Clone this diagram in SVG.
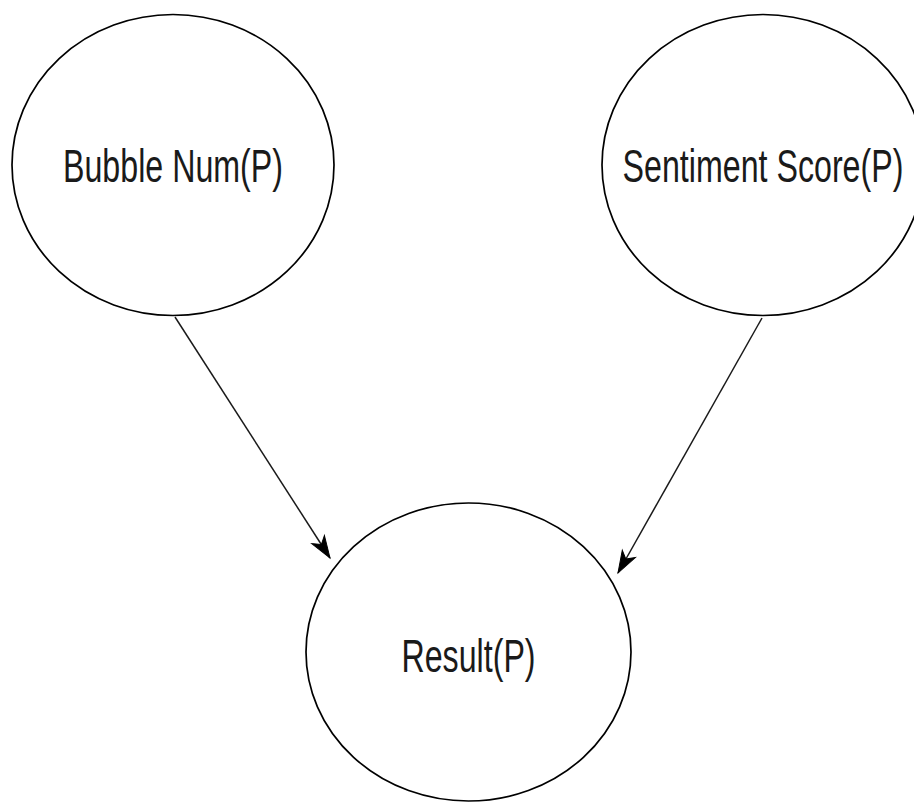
<svg xmlns="http://www.w3.org/2000/svg" width="914" height="802" viewBox="0 0 914 802">
  <defs>
    <style>
      .node ellipse { fill: #ffffff; stroke: #000000; stroke-width: 1.7; }
      .node text { font-family: "Liberation Sans", Arial, sans-serif; font-size: 46px; fill: #1a1a1a; text-anchor: middle; }
      .edge { fill: none; stroke: #1a1a1a; stroke-width: 1.5; }
    </style>
    <marker id="arrow" markerUnits="userSpaceOnUse" markerWidth="26" markerHeight="18" viewBox="-23 -9 24 18" refX="0" refY="0" orient="auto">
      <path d="M0,0 L-22,-7.5 L-16,0 L-22,7.5 Z" fill="#000000" stroke="#000000" stroke-width="1"/>
    </marker>
  </defs>
  <rect width="914" height="802" fill="#ffffff"/>

  <g id="connectors">
    <line class="edge" x1="175" y1="317" x2="330" y2="558" marker-end="url(#arrow)"/>
    <line class="edge" x1="762" y1="318" x2="618" y2="573" marker-end="url(#arrow)"/>
  </g>

  <g id="node-bubble-num" class="node">
    <ellipse cx="173" cy="165" rx="161" ry="150.5"/>
    <text transform="translate(173 182) scale(0.7 1)">Bubble Num(P)</text>
  </g>

  <g id="node-sentiment-score" class="node">
    <ellipse cx="763" cy="165" rx="161" ry="150.5"/>
    <text transform="translate(763 182) scale(0.7 1)">Sentiment Score(P)</text>
  </g>

  <g id="node-result" class="node">
    <ellipse cx="468.5" cy="652" rx="162.5" ry="149"/>
    <text transform="translate(468.5 672) scale(0.7 1)">Result(P)</text>
  </g>
</svg>
